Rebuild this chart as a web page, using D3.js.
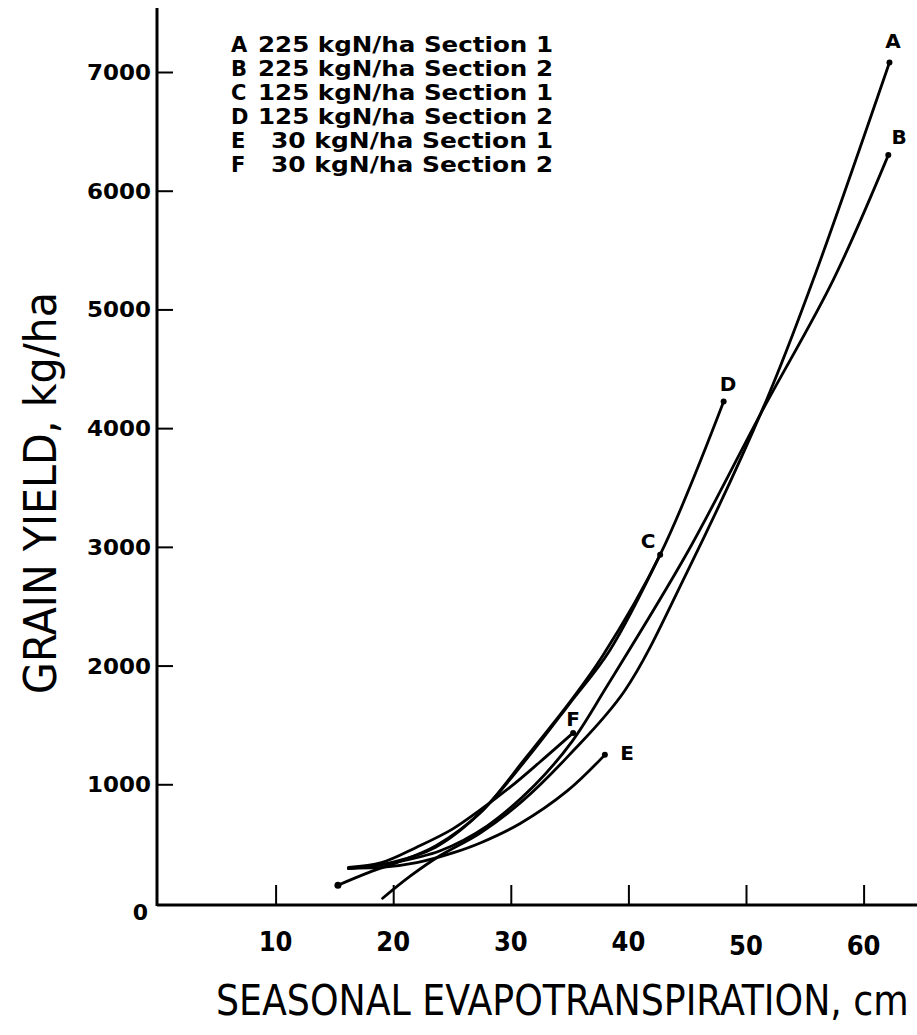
<!DOCTYPE html>
<html><head><meta charset="utf-8">
<script src="https://cdn.jsdelivr.net/npm/d3@7"></script>
<style>body{margin:0;background:#fff}svg{display:block}</style>
</head><body>
<svg id="c" width="917" height="1035"></svg>
<script>
// ---- data (ET in cm, grain yield in kg/ha) ----
const xTicks = [10, 20, 30, 40, 50, 60];
const yTicks = [0, 1000, 2000, 3000, 4000, 5000, 6000, 7000];
const seriesKeys = ["A", "B", "C", "D", "E", "F"];
const legendRates = ["225 kgN/ha", "225 kgN/ha", "125 kgN/ha", "125 kgN/ha", "30 kgN/ha", "30 kgN/ha"];
const legendSections = ["Section 1", "Section 2", "Section 1", "Section 2", "Section 1", "Section 2"];
const curveA = [[19.1,40],[21.5,230],[24,400],[27.4,590],[31,860],[35,1250],[39.7,1790],[45,2790],[51.8,4250],[55.7,5245],[62.2,7080]];
const curveB = [[16.2,290],[20,340],[24,440],[28,650],[32,990],[35.2,1360],[38.2,1830],[45,2950],[51.4,4150],[57.4,5245],[62.1,6300]];
const curveC = [[16.2,290],[20,345],[23.6,470],[27.4,760],[31.4,1220],[35,1680],[38.4,2125],[42.7,2934]];
const curveD = [[15.3,150],[18,260],[20.3,340],[23.6,480],[27.4,760],[31.4,1240],[35,1690],[37.8,2080],[42.7,2934],[48.1,4224]];
const curveE = [[16.2,295],[19,300],[22,340],[25,420],[27.4,506],[30.8,670],[34.8,944],[38,1248]];
const curveF = [[16.2,300],[19,340],[22,470],[25,620],[27.4,784],[30,980],[32.5,1190],[35.3,1433]];
const curves = [curveA, curveB, curveC, curveD, curveE, curveF];

const svg = d3.select("#c");
const x = d3.scaleLinear().domain([0, 60]).range([158, 863.6]);
const y = d3.scaleLinear().domain([0, 7000]).range([903, 72]);

// axes
const gx = svg.append("g").attr("transform", "translate(0,905)");
gx.call(d3.axisTop(x).tickValues(xTicks).tickSize(20).tickFormat(""));
gx.select(".domain").remove();
gx.selectAll("line").attr("stroke", "#000").attr("stroke-width", 2);
svg.append("line").attr("x1", 157).attr("x2", 917).attr("y1", 905).attr("y2", 905).attr("stroke", "#000").attr("stroke-width", 3);

const gy = svg.append("g").attr("transform", "translate(157,0)");
gy.call(d3.axisRight(y).tickValues(yTicks.filter(d => d > 0)).tickSize(16).tickFormat(""));
gy.select(".domain").remove();
gy.selectAll("line").attr("stroke", "#000").attr("stroke-width", 2);
svg.append("line").attr("x1", 157).attr("x2", 157).attr("y1", 8).attr("y2", 906).attr("stroke", "#000").attr("stroke-width", 3);

// y tick labels
svg.append("g").selectAll("text").data(yTicks).join("text")
  .attr("x", d => d === 0 ? 148 : 151).attr("y", d => d === 0 ? y(d) + 17 : y(d) + 8)
  .attr("text-anchor", "end")
  .attr("font-family", "DejaVu Sans, sans-serif").attr("font-weight", "bold")
  .attr("font-size", 22)
  .attr("textLength", d => d === 0 ? null : 64).attr("lengthAdjust", "spacingAndGlyphs")
  .text(d => d);

// x tick labels
svg.append("g").selectAll("text").data(xTicks).join("text")
  .attr("x", d => x(d)).attr("y", (d, i) => 951 + (i >= 4 ? 4 : 0))
  .attr("text-anchor", "middle")
  .attr("font-family", "Liberation Sans Narrow, DejaVu Sans Condensed, sans-serif").attr("font-weight", "bold")
  .attr("font-size", 27)
  .text(d => d);

// axis titles (scaled horizontally to fit measured width)
function fitText(txt, tx, ty, rot, size, width) {
  const t = svg.append("text").attr("x", 0).attr("y", 0)
    .attr("font-family", "Liberation Sans Narrow, DejaVu Sans Condensed, sans-serif")
    .attr("font-size", size).text(txt);
  const w = t.node().getComputedTextLength();
  t.attr("transform", `translate(${tx},${ty}) rotate(${rot}) scale(${width / w},1)`);
}
fitText("SEASONAL EVAPOTRANSPIRATION, cm", 216, 1015, 0, 43, 693);
fitText("GRAIN YIELD, kg/ha", 56, 694, -90, 44, 402);

// curves
const line = d3.line().x(d => x(d[0])).y(d => y(d[1])).curve(d3.curveCatmullRom.alpha(0.5));
svg.append("g").selectAll("path").data(curves).join("path")
  .attr("d", line).attr("fill", "none").attr("stroke", "#000").attr("stroke-width", 2.8).attr("stroke-linecap", "round");

// end dots
svg.append("g").selectAll("circle").data(curves).join("circle")
  .attr("cx", d => x(d[d.length - 1][0])).attr("cy", d => y(d[d.length - 1][1])).attr("r", 3).attr("fill", "#000");
svg.append("circle").attr("cx", x(curveD[0][0])).attr("cy", y(curveD[0][1])).attr("r", 3.5).attr("fill", "#000");

// curve labels
const labelPos = [[893, 48], [899, 144], [648, 548], [728, 391], [627, 760], [573, 726]];
svg.append("g").selectAll("text").data(seriesKeys).join("text")
  .attr("x", (d, i) => labelPos[i][0]).attr("y", (d, i) => labelPos[i][1])
  .attr("text-anchor", "middle")
  .attr("font-family", "DejaVu Sans, sans-serif").attr("font-weight", "bold").attr("font-size", 20)
  .text(d => d);

// legend
const lg = svg.append("g");
seriesKeys.forEach((k, i) => {
  const yy = 52 + i * 24;
  lg.append("text").attr("x", 231).attr("y", yy)
    .attr("font-family", "DejaVu Sans, sans-serif").attr("font-weight", "bold").attr("font-size", 21).text(k);
  const tx = i >= 4 ? 271 : 258;
  lg.append("text").attr("x", tx).attr("y", yy)
    .attr("font-family", "DejaVu Sans, sans-serif").attr("font-weight", "bold").attr("font-size", 21)
    .attr("textLength", 553 - tx).attr("lengthAdjust", "spacingAndGlyphs")
    .text(legendRates[i] + " " + legendSections[i]);
});
</script>
</body></html>
